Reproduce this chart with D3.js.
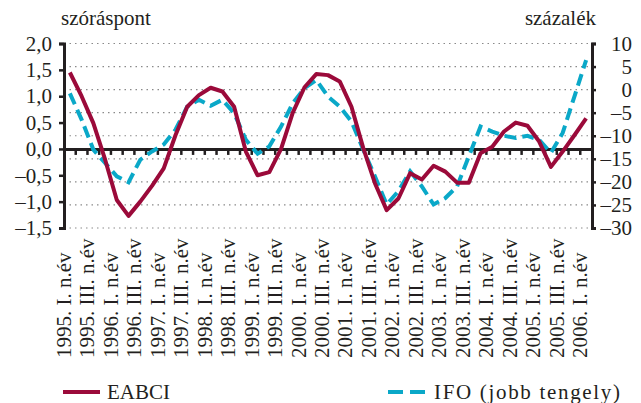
<!DOCTYPE html>
<html>
<head>
<meta charset="utf-8">
<script src="https://cdn.jsdelivr.net/npm/d3@7"></script>
<style>
  body { margin: 0; background: #fff; }
  text { font-family: "Liberation Serif", "DejaVu Serif", serif; fill: #231f20; }
</style>
</head>
<body>
<svg id="chart" width="641" height="403"></svg>
<script>
// quarters 1995 I .. 2006 I
const quarters = [];
d3.range(1995, 2007).forEach(y => ['I', 'II', 'III', 'IV'].forEach(q => quarters.push(y + '. ' + q + '.')));
quarters.splice(45);

// every second quarter gets a label
const tickLabels = [
  '1995. I. n.év', '1995. III. n.év', '1996. I. n.év', '1996. III. n.év',
  '1997. I. n.év', '1997. III. n.év', '1998. I. n.év', '1998. III. n.év',
  '1999. I. n.év', '1999. III. n.év', '2000. I. n.év', '2000. III. n.év',
  '2001. I. n.év', '2001. III. n.év', '2002. I. n.év', '2002. III. n.év',
  '2003. I. n.év', '2003. III. n.év', '2004. I. n.év', '2004. III. n.év',
  '2005. I. n.év', '2005. III. n.év', '2006. I. n.év'
];

// EABCI, szóráspont (left axis)
const eabci = [
  1.45, 1.0, 0.49, -0.2, -0.97, -1.27, -1.0, -0.7, -0.37, 0.26,
  0.8, 1.02, 1.16, 1.09, 0.8, -0.05, -0.5, -0.44, 0.0, 0.69,
  1.17, 1.42, 1.40, 1.28, 0.8, 0.02, -0.65, -1.16, -0.94, -0.46,
  -0.58, -0.32, -0.43, -0.64, -0.64, -0.08, 0.04, 0.33, 0.5, 0.44,
  0.14, -0.34, -0.05, 0.26, 0.58
];

// IFO, százalék (right axis)
const ifo = [
  -0.8, -6.5, -13.0, -15.9, -18.8, -20.1, -15.2, -13.4, -11.9, -8.7,
  -3.7, -2.2, -3.5, -2.2, -5.1, -10.9, -13.9, -12.3, -8.0, -2.9,
  0.3, 2.1, -1.5, -3.7, -6.9, -13.0, -18.8, -24.9, -22.0, -17.7,
  -21.0, -24.9, -23.5, -21.0, -14.5, -8.0, -9.1, -10.0, -10.5, -10.0,
  -10.9, -13.7, -9.4, -1.5, 6.4
];

const leftTicks = [2.0, 1.5, 1.0, 0.5, 0.0, -0.5, -1.0, -1.5];
const rightTicks = [10, 5, 0, -5, -10, -15, -20, -25, -30];

const svg = d3.select('#chart');
const plotL = 64, plotR = 592, plotT = 43.5, plotB = 228;
const dark = '#231f20', red = '#9b0a3a', cyan = '#0aa8c8';

const x = d3.scaleBand().domain(quarters).range([plotL, plotR]);
const yL = d3.scaleLinear().domain([-1.5, 2.0]).range([plotB, plotT]);
const yR = d3.scaleLinear().domain([-30, 10]).range([plotB, plotT]);

const fmt = v => d3.format('.1f')(v).replace('.', ',').replace('−', '–');
const fmtR = v => String(v).replace('-', '–');

// dotted grid on the right-axis ticks
svg.append('g').selectAll('line').data(rightTicks).join('line')
  .attr('x1', plotL).attr('x2', plotR)
  .attr('y1', d => yR(d)).attr('y2', d => yR(d))
  .attr('stroke', '#8a8a8a').attr('stroke-width', 1.2).attr('stroke-dasharray', '1.5,4');

// lines
const lineL = d3.line().x((d, i) => x(quarters[i]) + x.bandwidth() / 2).y(d => yL(d));
const lineR = d3.line().x((d, i) => x(quarters[i]) + x.bandwidth() / 2).y(d => yR(d));

// left axis
const gL = svg.append('g').attr('transform', `translate(${plotL},0)`)
  .call(d3.axisLeft(yL).tickValues(leftTicks).tickFormat(fmt).tickSize(5).tickPadding(7));
gL.select('.domain').attr('stroke', dark).attr('stroke-width', 3);
gL.selectAll('.tick line').attr('stroke', dark).attr('stroke-width', 2.5);
gL.selectAll('.tick text').attr('font-size', 21).attr('fill', dark)
  .style('font-family', '"Liberation Serif", serif');

// right axis
const gR = svg.append('g').attr('transform', `translate(${plotR},0)`)
  .call(d3.axisRight(yR).tickValues(rightTicks).tickFormat(fmtR).tickSize(4).tickPadding(8));
gR.select('.domain').attr('stroke', dark).attr('stroke-width', 3);
gR.selectAll('.tick line').attr('stroke', dark).attr('stroke-width', 2.5);
gR.selectAll('.tick text').attr('font-size', 21).attr('fill', dark)
  .attr('text-anchor', 'end').attr('x', 40)
  .style('font-family', '"Liberation Serif", serif');

// horizontal axis at zero with quarter ticks
const gX = svg.append('g').attr('transform', `translate(0,${yL(0)})`)
  .call(d3.axisBottom(x).tickValues([]).tickSizeOuter(0));
gX.select('.domain').attr('stroke', dark).attr('stroke-width', 3);
gX.append('g').selectAll('line').data(quarters.slice(1)).join('line')
  .attr('x1', d => x(d)).attr('x2', d => x(d))
  .attr('y1', 0).attr('y2', 6)
  .attr('stroke', dark).attr('stroke-width', 2.5);

// category labels, rotated, aligned at the bottom
svg.append('g').selectAll('text').data(tickLabels).join('text')
  .attr('transform', (d, i) => `translate(${x(quarters[i * 2]) + x.bandwidth() / 2 + 1},358) rotate(-90)`)
  .attr('text-anchor', 'start')
  .attr('font-size', 21)
  .text(d => d);

svg.append('path').datum(ifo)
  .attr('d', lineR).attr('fill', 'none')
  .attr('stroke', cyan).attr('stroke-width', 4).attr('stroke-dasharray', '12,6');

svg.append('path').datum(eabci)
  .attr('d', lineL).attr('fill', 'none')
  .attr('stroke', red).attr('stroke-width', 4).attr('stroke-linejoin', 'round');

// axis titles
svg.append('text').attr('x', 61).attr('y', 25).attr('font-size', 21).text('szóráspont');
svg.append('text').attr('x', 596).attr('y', 25).attr('font-size', 21).attr('text-anchor', 'end').text('százalék');

// legend
const leg = svg.append('g');
leg.append('line').attr('x1', 63).attr('x2', 100).attr('y1', 392).attr('y2', 392)
  .attr('stroke', red).attr('stroke-width', 4);
leg.append('text').attr('x', 107).attr('y', 399).attr('font-size', 21).text('EABCI');
leg.append('line').attr('x1', 388).attr('x2', 425).attr('y1', 392).attr('y2', 392)
  .attr('stroke', cyan).attr('stroke-width', 4).attr('stroke-dasharray', '15,7');
leg.append('text').attr('x', 434).attr('y', 399).attr('font-size', 21)
  .attr('textLength', 186).attr('lengthAdjust', 'spacing').text('IFO (jobb tengely)');
</script>
</body>
</html>
